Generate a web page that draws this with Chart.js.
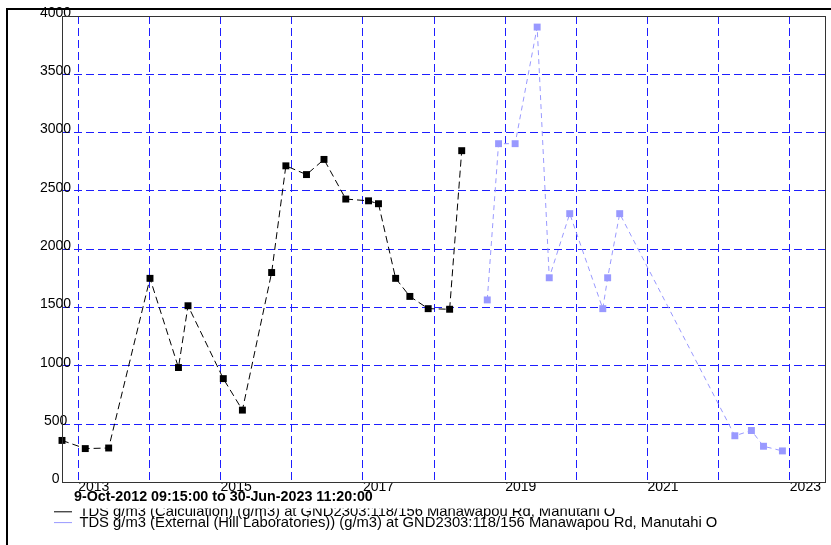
<!DOCTYPE html>
<html>
<head>
<meta charset="utf-8">
<title>TDS GND2303</title>
<script src="https://cdn.jsdelivr.net/npm/chart.js@4.4.1/dist/chart.umd.min.js"></script>
<style>
  html, body { margin: 0; padding: 0; background: #fff; }
  #chart { display: block; }
</style>
</head>
<body>
<canvas id="chart" width="831" height="545"></canvas>
<script>
// TDS g/m3 - GND2303:118/156 Manawapou Rd

// Calculation series (black)
const calcDates = [
    '2012-10-09 09:15', '2013-02-06', '2013-06-06', '2014-01-04', '2014-05-30',
    '2014-07-18', '2015-01-15', '2015-04-23', '2015-09-20', '2015-12-02',
    '2016-03-17', '2016-06-15', '2016-10-05', '2017-01-30', '2017-03-22',
    '2017-06-18', '2017-08-30', '2017-12-02', '2018-03-22', '2018-05-23'
];
const calcValues = [
    360, 290, 295, 1750, 985,
    1515, 890, 620, 1800, 2715,
    2640, 2770, 2430, 2415, 2390,
    1750, 1595, 1490, 1485, 2845
];

// External (Hill Laboratories) series (light blue)
const labDates = [
    '2018-10-01', '2018-11-28', '2019-02-21', '2019-06-14', '2019-08-15',
    '2019-11-28', '2020-05-16', '2020-06-10', '2020-08-11', '2022-03-25',
    '2022-06-18', '2022-08-19', '2022-11-24'
];
const labValues = [
    1565, 2905, 2905, 3905, 1755,
    2305, 1490, 1755, 2305, 400,
    445, 310, 270
];

const yearTicks = [2013, 2014, 2015, 2016, 2017, 2018, 2019, 2020, 2021, 2022, 2023];
const labelledYears = [2013, 2015, 2017, 2019, 2021, 2023];
const yMin = 0, yMax = 4000, yStep = 500;

const rangeStart = '2012-10-09 09:15';
const rangeEnd = '2023-06-30 11:20';
const periodText = '9-Oct-2012 09:15:00 to 30-Jun-2023 11:20:00';
const seriesNames = [
    'TDS g/m3 (Calculation) (g/m3) at GND2303:118/156 Manawapou Rd, Manutahi O',
    'TDS g/m3 (External (Hill Laboratories)) (g/m3) at GND2303:118/156 Manawapou Rd, Manutahi O'
];

const FONT = "'Liberation Sans', Arial, sans-serif";
const GRID_BLUE = 'rgb(30, 30, 255)';

// 'YYYY-MM-DD [HH:MM]' -> decimal year
function toYear(s) {
    const [datePart, timePart] = s.split(' ');
    const [y, m, d] = datePart.split('-').map(Number);
    const [hh, mm] = (timePart || '0:0').split(':').map(Number);
    const start = Date.UTC(y, 0, 1);
    const end = Date.UTC(y + 1, 0, 1);
    return y + (Date.UTC(y, m - 1, d, hh, mm) - start) / (end - start);
}

// outer border + period text under the axis
const framePlugin = {
    id: 'frame',
    afterDraw(chart) {
        const { ctx, chartArea: a } = chart;
        ctx.save();
        ctx.strokeStyle = '#333';
        ctx.lineWidth = 1;
        ctx.strokeRect(Math.round(a.left) + 0.5, Math.round(a.top) + 0.5,
            Math.round(a.right - a.left), Math.round(a.bottom - a.top));

        ctx.fillStyle = '#000';
        ctx.fillRect(6, 8, chart.width, 2);
        ctx.fillRect(6, 8, 2, chart.height);

        ctx.font = `bold 14.3px ${FONT}`;
        ctx.textAlign = 'left';
        ctx.textBaseline = 'middle';
        ctx.fillText(periodText, 74, 497);
        ctx.restore();
    }
};

const gridColor = (ctx) => {
    const v = ctx.tick ? ctx.tick.value : null;
    return (v === yMin || v === yMax) ? 'rgba(0,0,0,0)' : GRID_BLUE;
};

new Chart(document.getElementById('chart'), {
    type: 'line',
    data: {
        datasets: [{
            label: seriesNames[0],
            data: calcDates.map((d, i) => ({ x: toYear(d), y: calcValues[i] })),
            borderColor: '#000',
            backgroundColor: '#000',
            borderWidth: 1,
            borderDash: [7, 4],
            pointStyle: 'rect',
            pointRadius: 4.9,
            pointHoverRadius: 4.9,
            pointBorderWidth: 0,
            tension: 0,
            clip: false
        }, {
            label: seriesNames[1],
            data: labDates.map((d, i) => ({ x: toYear(d), y: labValues[i] })),
            borderColor: '#9999ff',
            backgroundColor: '#9999ff',
            borderWidth: 1,
            borderDash: [5, 4],
            pointStyle: 'rect',
            pointRadius: 4.9,
            pointHoverRadius: 4.9,
            pointBorderWidth: 0,
            tension: 0,
            clip: false
        }]
    },
    options: {
        responsive: false,
        animation: false,
        events: [],
        layout: { padding: { left: 54, right: 6, top: 16, bottom: 5 } },
        scales: {
            x: {
                type: 'linear',
                min: toYear(rangeStart),
                max: toYear(rangeEnd),
                afterBuildTicks: (scale) => { scale.ticks = yearTicks.map(v => ({ value: v })); },
                afterFit: (scale) => { scale.height = 26; },
                grid: { color: GRID_BLUE, lineWidth: 1, drawTicks: false },
                border: { display: false, dash: [8, 4] },
                ticks: {
                    align: 'start',
                    padding: -4,
                    maxRotation: 0,
                    autoSkip: false,
                    color: '#000',
                    font: { family: FONT, size: 14 },
                    callback: (v) => labelledYears.includes(v) ? String(v) : ''
                }
            },
            y: {
                min: yMin,
                max: yMax,
                afterFit: (scale) => { scale.width = 8; },
                grid: { color: gridColor, lineWidth: 1, drawTicks: false },
                border: { display: false, dash: [8, 4] },
                ticks: {
                    stepSize: yStep,
                    mirror: true,
                    crossAlign: 'center',
                    padding: -22,
                    labelOffset: -3,
                    color: '#000',
                    font: { family: FONT, size: 14 },
                    callback: (v) => String(v)
                }
            }
        },
        plugins: {
            tooltip: { enabled: false },
            title: { display: false },
            legend: {
                position: 'bottom',
                align: 'start',
                fullSize: true,
                labels: {
                    font: { family: FONT, size: 14.8 },
                    color: '#000',
                    padding: -4,
                    boxWidth: 22,
                    usePointStyle: true,
                    pointStyleWidth: 22,
                    generateLabels: (chart) => chart.data.datasets.map((ds, i) => ({
                        text: ds.label,
                        strokeStyle: ds.borderColor,
                        fillStyle: ds.borderColor,
                        lineWidth: 1,
                        pointStyle: 'line',
                        hidden: false,
                        datasetIndex: i
                    }))
                }
            }
        }
    },
    plugins: [framePlugin]
});
</script>
</body>
</html>
